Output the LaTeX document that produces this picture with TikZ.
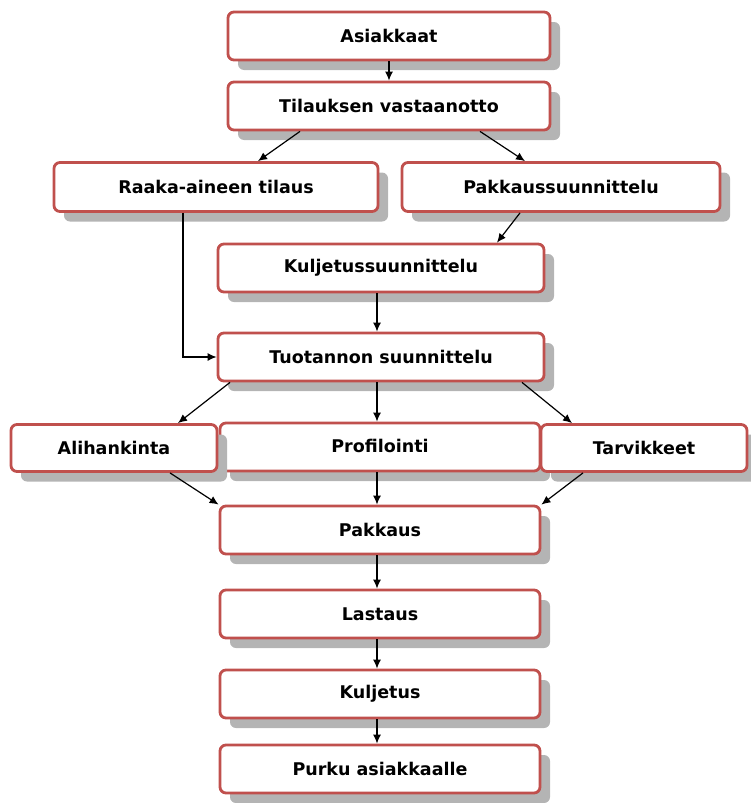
\documentclass[tikz,border=0pt]{standalone}
\usepackage{fontspec}
\setmainfont{DejaVu Sans}
\usetikzlibrary{shadows,arrows.meta,calc}
\definecolor{boxred}{RGB}{192,80,77}
\definecolor{shadowgray}{RGB}{180,180,180}
\tikzset{
  flowbox/.style={rectangle, rounded corners=6pt, draw=boxred, line width=2.8pt,
    fill=white, inner sep=0pt, font=\bfseries\fontsize{17.5}{19}\selectfont,
    drop shadow={shadow xshift=10pt, shadow yshift=-10pt, fill=shadowgray, opacity=1}},
  flowarrow/.style={draw=black, line width=1.2pt, -{Latex[length=9pt,width=8pt]}}
}
\begin{document}
\begin{tikzpicture}[x=1pt,y=-1pt]
\useasboundingbox (0,0) rectangle (750,803);
% boxes, top to bottom
\node[flowbox, minimum width=322pt, minimum height=48pt] (asi) at (389,36) {Asiakkaat};
\node[flowbox, minimum width=322pt, minimum height=48pt] (til) at (389,106) {Tilauksen vastaanotto};
\node[flowbox, minimum width=324pt, minimum height=49pt] (raa) at (216,187) {Raaka-aineen tilaus};
\node[flowbox, minimum width=318pt, minimum height=49pt] (pak) at (561,187) {Pakkaussuunnittelu};
\node[flowbox, minimum width=326pt, minimum height=48pt] (kul) at (381,268) {Kuljetussuunnittelu};
\node[flowbox, minimum width=326pt, minimum height=48pt] (tuo) at (381,357) {Tuotannon suunnittelu};
\node[flowbox, minimum width=320pt, minimum height=48pt] (pro) at (380,447) {\raisebox{3pt}{Profilointi}};
\node[flowbox, minimum width=206pt, minimum height=47pt] (ali) at (114,448) {Alihankinta};
\node[flowbox, minimum width=206pt, minimum height=47pt] (tar) at (644,448) {Tarvikkeet};
\node[flowbox, minimum width=320pt, minimum height=48pt] (pka) at (380,530) {Pakkaus};
\node[flowbox, minimum width=320pt, minimum height=48pt] (las) at (380,614) {Lastaus};
\node[flowbox, minimum width=320pt, minimum height=48pt] (kuj) at (380,694) {Kuljetus};
\node[flowbox, minimum width=320pt, minimum height=48pt] (pur) at (380,769) {Purku asiakkaalle};
% connectors
\draw[flowarrow] (asi.south) -- (til.north);
\draw[flowarrow] ($(til.south)+(-89,0)$) -- ($(raa.north)+(42,0)$);
\draw[flowarrow] ($(til.south)+(91,0)$) -- ($(pak.north)+(-36,0)$);
\draw[flowarrow] ($(pak.south)+(-41,0)$) -- ($(kul.north)+(116,0)$);
\draw[flowarrow] ($(raa.south)+(-33,0)$) |- (tuo.west);
\draw[flowarrow] ($(kul.south)+(-4,0)$) -- ($(tuo.north)+(-4,0)$);
\draw[flowarrow] ($(tuo.south)+(-151,0)$) -- ($(ali.north)+(64,0)$);
\draw[flowarrow] ($(tuo.south)+(-4,0)$) -- ($(pro.north)+(-3,0)$);
\draw[flowarrow] ($(tuo.south)+(141,0)$) -- ($(tar.north)+(-72,0)$);
\draw[flowarrow] ($(ali.south)+(56,0)$) -- (pka.north west);
\draw[flowarrow] ($(pro.south)+(-3,0)$) -- ($(pka.north)+(-3,0)$);
\draw[flowarrow] ($(tar.south)+(-61,0)$) -- (pka.north east);
\draw[flowarrow] ($(pka.south)+(-3,0)$) -- ($(las.north)+(-3,0)$);
\draw[flowarrow] ($(las.south)+(-3,0)$) -- ($(kuj.north)+(-3,0)$);
\draw[flowarrow] ($(kuj.south)+(-3,0)$) -- ($(pur.north)+(-3,0)$);
\end{tikzpicture}
\end{document}
